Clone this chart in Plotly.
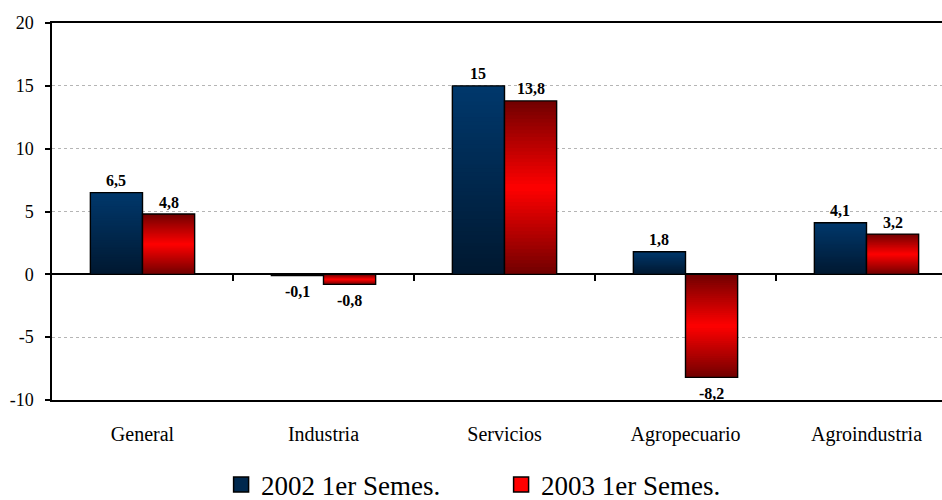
import plotly.graph_objects as go

# Variación por sector, primer semestre
categories = ["General", "Industria", "Servicios", "Agropecuario", "Agroindustria"]
sem_2002 = [6.5, -0.1, 15, 1.8, 4.1]
sem_2003 = [4.8, -0.8, 13.8, -8.2, 3.2]
series_names = ["2002 1er Semes.", "2003 1er Semes."]
y_tick_values = [-10, -5, 0, 5, 10, 15, 20]
y_tick_labels = ["-10", "-5", "0", "5", "10", "15", "20"]

FONT = "Liberation Serif"
N_STEPS = 48
BAR_W = 0.288
x_idx = list(range(len(categories)))


def lerp(a, b, t):
    return "rgb(%d,%d,%d)" % tuple(round(a[i] + (b[i] - a[i]) * t) for i in range(3))


def blue_shade(f):
    # dark at the base, lighter toward the end of the bar
    return lerp((0, 24, 48), (0, 56, 108), f)


def red_shade(f):
    # dark at both ends, bright red in the middle
    d = abs(f - 0.5) * 2
    return lerp((255, 0, 0), (112, 0, 0), d)


def fmt(v):
    return ("%g" % v).replace(".", ",")


fig = go.Figure()

series = [
    (sem_2002, -BAR_W, blue_shade, series_names[0]),
    (sem_2003, 0.0, red_shade, series_names[1]),
]

for values, offset, shade, name in series:
    # gradient fill: nested bars from full length down to the base
    for k in range(N_STEPS):
        frac = (N_STEPS - k) / N_STEPS
        f_mid = (N_STEPS - k - 0.5) / N_STEPS
        fig.add_trace(go.Bar(
            x=x_idx, y=[v * frac for v in values],
            offset=offset, width=BAR_W,
            marker=dict(color=shade(f_mid), line=dict(width=0)),
            showlegend=False, hoverinfo="skip",
        ))
    # outline
    fig.add_trace(go.Bar(
        x=x_idx, y=values, offset=offset, width=BAR_W,
        marker=dict(color="rgba(0,0,0,0)", line=dict(color="black", width=1.4)),
        showlegend=False, name=name,
    ))
    # value labels above positive bars, below negative ones
    for i, v in zip(x_idx, values):
        fig.add_annotation(
            x=i + offset + BAR_W / 2, y=v, text="<b>%s</b>" % fmt(v),
            showarrow=False, xanchor="center", yanchor="middle",
            yshift=12 if v >= 0 else -16,
            font=dict(family=FONT, size=16, color="black"),
        )

# legend entries
for (values, offset, shade, name) in series:
    fig.add_trace(go.Scatter(
        x=[None], y=[None], mode="markers", name=name,
        marker=dict(symbol="square", size=15, color=shade(0.5),
                    line=dict(color="black", width=1.5)),
    ))

# tick marks along the zero line between categories
fig.add_trace(go.Scatter(
    x=[0.5, 3.5], y=[None, None], xaxis="x2", mode="markers",
    showlegend=False, hoverinfo="skip",
))

x_range = [-0.5, -0.5 + 890 / 181]

fig.update_layout(
    width=942, height=500,
    margin=dict(l=52, r=0, t=23, b=100, autoexpand=False),
    paper_bgcolor="white", plot_bgcolor="white",
    barmode="overlay",
    font=dict(family=FONT, color="black"),
    xaxis=dict(
        range=x_range, tickvals=x_idx, ticktext=categories,
        showgrid=False, zeroline=False,
        showline=True, linecolor="black", linewidth=1.5, mirror=True,
        ticks="", ticklabelstandoff=15,
        tickfont=dict(family=FONT, size=20, color="black"),
    ),
    xaxis2=dict(
        range=x_range, overlaying="x", anchor="free", position=1 / 3,
        tickvals=[0.5, 1.5, 2.5, 3.5], showticklabels=False,
        ticks="outside", ticklen=6, tickwidth=1.5, tickcolor="black",
        showgrid=False, zeroline=False, showline=False,
    ),
    yaxis=dict(
        range=[-10, 20], tickvals=y_tick_values, ticktext=y_tick_labels,
        showgrid=True, gridcolor="#b5b5b5", griddash="dot", gridwidth=1,
        zeroline=True, zerolinecolor="black", zerolinewidth=1.5,
        showline=True, linecolor="black", linewidth=1.5,
        ticks="outside", ticklen=5, tickwidth=1.5, tickcolor="black",
        ticklabelstandoff=8,
        tickfont=dict(family=FONT, size=18, color="black"),
    ),
    legend=dict(
        orientation="h", xanchor="left", yanchor="middle",
        x=0.19, y=-0.225, entrywidth=235,
        font=dict(family=FONT, size=27, color="black"),
        bgcolor="rgba(0,0,0,0)",
    ),
)

fig.write_html("out.html")
